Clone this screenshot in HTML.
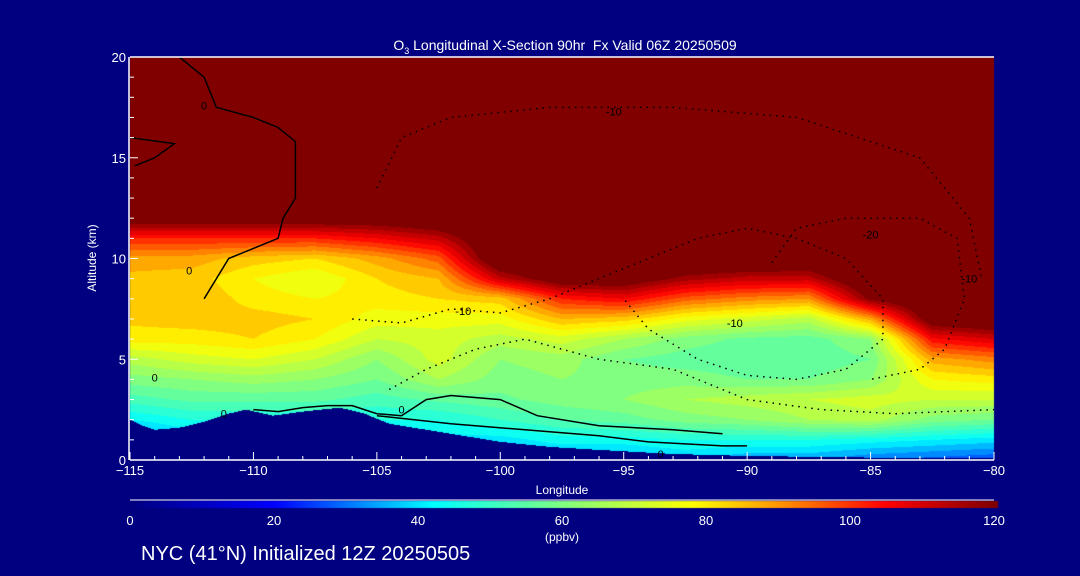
<!DOCTYPE html>
<html><head><meta charset="utf-8"><style>
html,body{margin:0;padding:0;background:#000080;}
#wrap{position:relative;width:1080px;height:576px;background:#000080;overflow:hidden;font-family:"Liberation Sans",sans-serif;color:#fff;}
.t{position:absolute;white-space:nowrap;font-size:13px;line-height:1;}
canvas,svg{position:absolute;left:0;top:0;}
</style></head><body>
<div id="wrap">
<canvas id="cv" width="1080" height="576"></canvas>
<svg id="sv" width="1080" height="576"></svg>
<div class="t" style="left:565px;top:38px;transform:translateX(-50%);font-size:14px;">O<sub style="font-size:9px">3</sub> Longitudinal X-Section 90hr&nbsp; Fx Valid 06Z 20250509</div>
<div class="t" style="left:92px;top:258px;transform:translate(-50%,-50%) rotate(-90deg);font-size:12px;">Altitude (km)</div>
<div class="t" style="left:562px;top:484px;transform:translateX(-50%);font-size:12px;">Longitude</div>
<div class="t" style="left:562px;top:531px;transform:translateX(-50%);font-size:12px;">(ppbv)</div>
<div class="t" style="left:141px;top:544px;font-size:20px;">NYC (41°N) Initialized 12Z 20250505</div>
</div>
<script>
const lons=[-115,-112.5,-110,-107.5,-105,-102.5,-100,-97.5,-95,-92.5,-90,-87.5,-85,-82.5,-80];
// ozone (ppbv) at altitudes 0..12 km per longitude column; above 12 km -> 130
const ozone=[
[30,30,42,52,60,68,80,83,84,85,88,102,125],
[35,38,46,55,62,72,80,84,86,84,88,102,125],
[35,40,46,55,64,74,82,84,80,78,84,102,125],
[35,40,46,55,62,70,78,82,78,74,82,102,125],
[35,40,46,52,58,62,70,76,80,82,88,106,125],
[35,40,46,55,66,72,72,76,82,86,96,112,128],
[35,40,50,57,60,62,68,76,84,112,130,130,130],
[35,44,54,60,62,64,72,86,102,125,130,130,130],
[35,44,56,62,60,58,66,84,106,125,130,130,130],
[38,46,60,66,60,56,60,76,96,116,130,130,130],
[34,46,62,68,58,55,57,72,92,112,130,130,130],
[34,46,66,70,58,55,56,68,90,112,128,130,130],
[30,44,68,72,62,58,62,88,120,130,130,130,130],
[28,42,60,70,78,88,105,125,130,130,130,130,130],
[26,40,58,70,80,92,110,128,130,130,130,130,130]];
const terrLon=[-115,-114.5,-114,-113,-112,-111,-110.3,-109.2,-108,-106.5,-105.5,-104.5,-102,-100,-98,-96,-93,-90,-85,-80];
const terrAlt=[2.0,1.7,1.5,1.6,1.9,2.3,2.5,2.2,2.4,2.6,2.3,1.8,1.3,0.9,0.65,0.5,0.3,0.2,0.12,0.1];
const xTicks=[-115,-110,-105,-100,-95,-90,-85,-80];
const yTicks=[0,5,10,15,20];
const cbTicks=[0,20,40,60,80,100,120];
const cStops=[0,20,42,60,78,90,105,120];
const cCols=[[0,0,128],[0,0,255],[0,255,255],[128,255,128],[255,255,0],[255,150,0],[255,0,0],[128,0,0]];
// contour lines [lon,alt]
const contour0a=[[-113,20],[-112,19],[-111.5,17.5],[-110,17],[-109,16.5],[-108.3,15.8],[-108.3,13],[-108.8,12],[-109,11],[-110,10.5],[-111,10],[-112,8]];
const contour0b=[[-115,16],[-113.2,15.7],[-114,15],[-114.8,14.6]];
const contour0c=[[-110,2.5],[-109,2.4],[-108,2.6],[-107,2.7],[-106,2.7],[-105,2.3],[-104,2.2],[-103,3.0],[-102,3.2],[-100,3.0],[-98.5,2.2],[-96,1.7],[-93,1.5],[-91,1.3]];
const contour0d=[[-105,2.2],[-102,1.8],[-99,1.5],[-96,1.2],[-94,0.9],[-91,0.7],[-90,0.7]];
const dot10a=[[-106,7],[-104,6.8],[-102,7.5],[-100,7.3],[-98,8],[-96,9],[-94,10],[-92,11],[-90,11.5],[-88,11],[-86,10],[-84.5,8],[-84.5,6],[-86,4.5],[-88,4],[-90,4.2],[-92,5],[-94,6.5],[-95,8]];
const dot10b=[[-104.5,3.5],[-103,4.5],[-101,5.5],[-99,6],[-96,5],[-93,4.5],[-90,3],[-87,2.5],[-84,2.3],[-80,2.5]];
const dot20=[[-89,9.8],[-88,11.5],[-86,12],[-83,12],[-81.5,11],[-81.2,8],[-82,5.5],[-83,4.5],[-85,4]];
const dot10c=[[-105,13.5],[-104,16],[-102,17],[-98,17.5],[-93,17.5],[-88,17],[-83,15],[-81,12],[-80.5,9]];

const X0=130,X1=994,Y0=460,Y1=57;
const xs=l=>X0+(l+115)/35*(X1-X0);
const ys=a=>Y0-a/20*(Y0-Y1);
const invx=px=>-115+(px-X0)/(X1-X0)*35;
const invy=py=>(Y0-py)/(Y0-Y1)*20;
function cmap(v){v=Math.max(0,Math.min(120,v));for(let i=0;i<cStops.length-1;i++){if(v<=cStops[i+1]){const t=(v-cStops[i])/(cStops[i+1]-cStops[i]);return cCols[i].map((c,k)=>Math.round(c+(cCols[i+1][k]-c)*t));}}return cCols[cCols.length-1];}
function interp1(xa,ya,x){if(x<=xa[0])return ya[0];for(let i=0;i<xa.length-1;i++)if(x<=xa[i+1]){const t=(x-xa[i])/(xa[i+1]-xa[i]);return ya[i]+(ya[i+1]-ya[i])*t;}return ya[ya.length-1];}
function val(l,a){let i=Math.min(lons.length-2,Math.max(0,Math.floor((l+115)/2.5)));const tx=Math.max(0,Math.min(1,(l-lons[i])/2.5));
 const g=(c,h)=>{if(h>=12)return h>12.5?130:ozone[c][12];const j=Math.floor(h),t=h-j;return ozone[c][j]+(ozone[c][j+1]-ozone[c][j])*t;};
 return g(i,a)*(1-tx)+g(i+1,a)*tx;}
const cv=document.getElementById('cv'),ctx=cv.getContext('2d');
const W=X1-X0,H=Y0-Y1,img=ctx.createImageData(W,H);
for(let px=0;px<W;px++){const l=invx(X0+px+0.5),th=interp1(terrLon,terrAlt,l);
 for(let py=0;py<H;py++){const a=invy(Y1+py+0.5);let c;if(a<th)c=[0,0,128];else c=cmap(Math.round(val(l,a)/4)*4);const o=(py*W+px)*4;img.data[o]=c[0];img.data[o+1]=c[1];img.data[o+2]=c[2];img.data[o+3]=255;}}
ctx.putImageData(img,X0,Y1);
// colorbar
for(let px=X0;px<=X1+3;px++){const c=cmap((px-X0)/(X1-X0)*120);ctx.fillStyle=`rgb(${c[0]},${c[1]},${c[2]})`;ctx.fillRect(px,501,1,7);}
const sv=document.getElementById('sv'),NS='http://www.w3.org/2000/svg';
function mk(t,at,name){const e=document.createElementNS(NS,t);for(const k in at)e.setAttribute(k,at[k]);


sv.appendChild(e);return e;}
function line(pts,dash,name){mk('polyline',{points:pts.map(p=>xs(p[0]).toFixed(1)+','+ys(p[1]).toFixed(1)).join(' '),fill:'none',stroke:'#000','stroke-width':1.5,'stroke-dasharray':dash?'1.5 5':'none'},name);}
line(contour0a,false,'contour-0-upper');line(contour0b,false,'contour-0-left');line(contour0c,false,'contour-0-low');line(contour0d,false,'contour-0-surface');
line(dot10a,true,'contour-neg10-mid');line(dot10b,true,'contour-neg10-low');line(dot20,true,'contour-neg20');line(dot10c,true,'contour-neg10-upper');
mk('line',{x1:X0,y1:Y1,x2:X1,y2:Y1,stroke:'#fff','stroke-width':1.5},'top-axis-line');
mk('line',{x1:X0,y1:Y0,x2:X1,y2:Y0,stroke:'#fff','stroke-width':1.5},'x-axis-line');
mk('line',{x1:X0-1,y1:Y0,x2:X0-1,y2:Y1,stroke:'#fff','stroke-width':1.5},'y-axis-line');
mk('line',{x1:X0,y1:500,x2:X1,y2:500,stroke:'#fff','stroke-width':1},'colorbar-top-line');
for(let l=-115;l<=-80;l++){const maj=xTicks.includes(l);mk('line',{x1:xs(l),y1:Y0,x2:xs(l),y2:Y0-(maj?8:4),stroke:'#fff','stroke-width':1},'x-tick');}
for(let a=0;a<=20;a++){const maj=yTicks.includes(a);mk('line',{x1:X0,y1:ys(a),x2:X0+(maj?8:4),y2:ys(a),stroke:'#fff','stroke-width':1},'y-tick');}
function txt(x,y,s,anchor,name){const e=mk('text',{x:x,y:y,fill:'#fff','font-size':13,'font-family':'Liberation Sans, sans-serif','text-anchor':anchor},name);e.textContent=s;}
xTicks.forEach(l=>txt(xs(l),475,'\u2212'+Math.abs(l),'middle','x-tick-label'));
yTicks.forEach(a=>txt(X0-4,ys(a)+5,String(a),'end','y-tick-label'));
cbTicks.forEach(v=>txt(X0+v/120*(X1-X0),525,String(v),'middle','colorbar-tick-label'));
const lbl=[[-112,17.6,'0'],[-101.5,7.4,'-10'],[-95.4,17.3,'-10'],[-90.5,6.8,'-10'],[-85,11.2,'-20'],[-81,9,'-10'],[-114,4.1,'0'],[-111.2,2.3,'0'],[-104,2.5,'0'],[-112.6,9.4,'0'],[-93.5,0.3,'0']];
lbl.forEach(p=>{const e=mk('text',{x:xs(p[0]),y:ys(p[1])+4,fill:'#000','font-size':11,'font-family':'Liberation Sans, sans-serif','text-anchor':'middle'},'contour-label');e.textContent=p[2];});
</script>
</body></html>
